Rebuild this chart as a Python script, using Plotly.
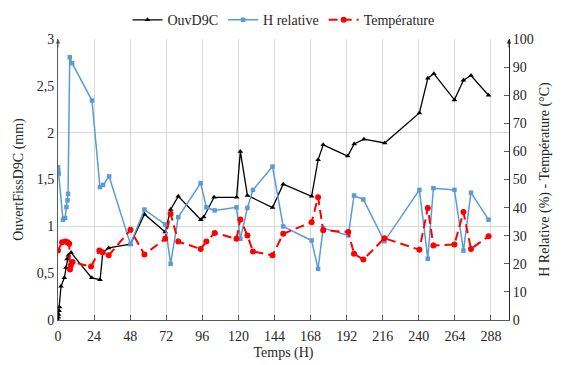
import plotly.graph_objects as go

# ---- data ----
t_ouv = [0, 0.2, 0.4, 0.7, 1.0, 2.0, 4.2, 5.3, 6.0, 6.9, 8.7, 22.4, 28.0, 29.8, 33.7, 48.2,
         57.5, 71.3, 74.9, 80.0, 95.0, 97.0, 103.8, 118.8, 121.3, 126.0, 142.7, 149.8,
         168.7, 173.0, 176.4, 192.7, 197.0, 203.5, 217.3, 240.4, 246.0, 250.0, 263.7,
         269.7, 274.7, 286.4]
ouv = [0.0, 0.03, 0.06, 0.10, 0.14, 0.36, 0.45, 0.56, 0.65, 0.69, 0.72, 0.45, 0.43, 0.72,
       0.77, 0.81, 1.13, 0.94, 1.18, 1.32, 1.07, 1.10, 1.31, 1.31, 1.80, 1.33, 1.20, 1.45,
       1.32, 1.71, 1.87, 1.75, 1.88, 1.93, 1.89, 2.21, 2.58, 2.63, 2.35, 2.56, 2.61, 2.40]

t_hr = [0, 0.2, 0.4, 3.3, 4.7, 5.6, 6.3, 6.7, 7.8, 9.4, 22.6, 27.9, 30.0, 34.0, 48.2,
        57.5, 71.3, 74.9, 80.0, 94.9, 98.7, 104.2, 118.7, 121.3, 126.0, 129.7, 142.7,
        149.8, 168.7, 173.0, 176.4, 193.1, 196.9, 203.1, 217.1, 240.4, 246.0, 249.7,
        263.7, 269.7, 274.7, 286.4]
hr = [54.4, 53.2, 52.0, 35.7, 36.3, 40.2, 42.6, 44.9, 93.5, 91.4, 78.1, 47.3, 48.1, 51.1,
      27.0, 39.3, 34.0, 20.0, 36.6, 48.7, 40.1, 39.0, 40.1, 28.9, 39.9, 46.3, 54.6, 33.3,
      28.3, 18.2, 32.7, 30.1, 44.3, 42.9, 28.0, 46.3, 21.8, 46.9, 46.3, 24.7, 45.3, 35.7]

t_temp = [0, 2.7, 4.9, 6.4, 7.5, 8.0, 8.5, 9.7, 22.0, 27.5, 29.7, 33.7, 48.2, 57.5, 71.3,
          74.9, 80.0, 94.9, 98.7, 104.2, 118.7, 121.3, 126.0, 129.7, 142.7, 149.8, 168.7,
          173.0, 176.4, 193.1, 196.9, 203.1, 217.1, 240.4, 246.0, 249.7, 263.7, 269.7,
          274.7, 286.4]
temp = [24.7, 27.7, 27.9, 27.7, 27.1, 18.0, 19.4, 20.6, 19.0, 24.7, 24.1, 23.0, 32.1, 23.3,
        28.9, 37.8, 27.9, 25.3, 27.9, 31.0, 28.9, 35.8, 30.1, 24.4, 23.0, 30.7, 34.8, 43.7,
        31.9, 31.3, 23.6, 21.5, 29.1, 25.0, 39.9, 26.5, 26.9, 38.4, 25.3, 29.8]

x_ticks = list(range(0, 289, 24))
left_ticks = [0, 0.5, 1, 1.5, 2, 2.5, 3]
right_ticks = list(range(0, 101, 10))

FONT = "Liberation Serif, DejaVu Serif, serif"
AX = "#595959"

fig = go.Figure()
fig.add_trace(go.Scatter(x=t_ouv, y=ouv, name="OuvD9C", mode="lines+markers",
                         line=dict(color="black", width=1.3),
                         marker=dict(symbol="triangle-up", size=5, color="black"),
                         yaxis="y"))
fig.add_trace(go.Scatter(x=t_hr, y=hr, name="H relative", mode="lines+markers",
                         line=dict(color="#5B9BD5", width=1.5),
                         marker=dict(symbol="square", size=4.5, color="#5B9BD5"),
                         yaxis="y2"))
fig.add_trace(go.Scatter(x=t_temp, y=temp, name="Température", mode="lines+markers",
                         line=dict(color="#FF0000", width=2, dash="9px,5px"),
                         marker=dict(symbol="circle", size=6, color="#FF0000"),
                         yaxis="y2"))

# the page body adds an 8px offset, so the figure is sized to fill the rest of the window
fig.update_layout(
    width=555, height=357,
    margin=dict(l=50, r=54, t=31, b=45, autoexpand=False),
    paper_bgcolor="white", plot_bgcolor="white",
    separators=", ",
    font=dict(family=FONT, size=14, color="#262626"),
    showlegend=True,
    legend=dict(orientation="h", x=0.5, xanchor="center", y=1.01, yanchor="bottom",
                font=dict(size=14), itemwidth=30, tracegroupgap=0),
    xaxis=dict(range=[0, 300], tickvals=x_ticks, showgrid=True, gridcolor="#D9D9D9",
               gridwidth=1, showline=True, linecolor=AX, linewidth=1,
               ticks="inside", ticklen=5, tickcolor=AX, zeroline=False,
               ticklabelstandoff=3,
               title=dict(text="Temps (H)", standoff=4, font=dict(size=14)),
               tickfont=dict(size=14)),
    yaxis=dict(range=[0, 3], tickvals=left_ticks, showgrid=False, zeroline=False,
               showline=True, linecolor=AX, linewidth=1, ticks="",
               title=dict(text="OuvertFissD9C (mm)", standoff=9, font=dict(size=14)),
               tickfont=dict(size=14)),
    yaxis2=dict(range=[0, 100], tickvals=right_ticks, overlaying="y", side="right",
                showgrid=False, zeroline=False, showline=True, linecolor="#262626",
                linewidth=1, ticks="inside", ticklen=5, tickcolor=AX,
                title=dict(text="H Relative (%) - Température (°C)", standoff=6,
                           font=dict(size=14)),
                tickfont=dict(size=14)),
    yaxis3=dict(range=[0, 3], dtick=1, tick0=0, overlaying="y", side="left",
                showgrid=True, gridcolor="#D9D9D9", gridwidth=1,
                showticklabels=False, zeroline=False, showline=False, ticks=""),
)

# invisible trace so yaxis3 (horizontal grid) is drawn
fig.add_trace(go.Scatter(x=[0], y=[0], yaxis="y3", mode="markers",
                         marker=dict(opacity=0), showlegend=False, hoverinfo="skip"))

# arrow heads at the top of both vertical axes
for xp, col in [(0, AX), (1, "#262626")]:
    fig.add_annotation(x=xp, y=1, xref="paper", yref="paper", ax=0, ay=10,
                       showarrow=True, arrowhead=2, arrowsize=0.9, arrowwidth=1,
                       arrowcolor=col, text="")

fig.write_html("out.html")
